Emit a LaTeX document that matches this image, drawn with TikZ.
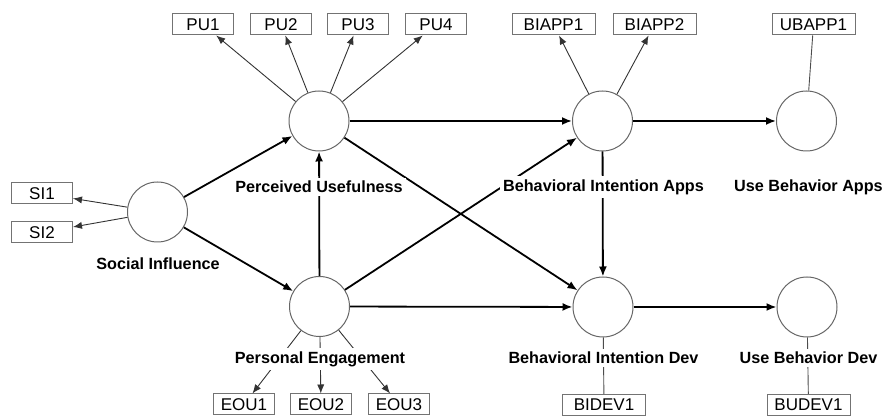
\documentclass[tikz,border=0pt]{standalone}
\usepackage{fontspec}
\setmainfont{Liberation Sans}
\usetikzlibrary{arrows.meta}
\tikzset{
  lv/.style={circle,draw=black!60,line width=0.5pt,minimum size=30pt,inner sep=0pt},
  ind/.style={draw=black!55,line width=0.5pt,minimum width=30.5pt,minimum height=10.5pt,
    inner sep=0pt,font=\fontsize{8.5}{10}\selectfont},
  wide/.style={minimum width=41.5pt},
  lvname/.style={fill=white,inner sep=1.5pt,font=\fontsize{8.1}{10}\selectfont\bfseries},
  effect/.style={line width=0.9pt,-{Latex[length=5pt,width=4pt]}},
  load/.style={draw=black!80,line width=0.45pt,-{Latex[length=4.5pt,width=3.6pt]}},
  link/.style={draw=black!70,line width=0.45pt}
}
\begin{document}
\begin{tikzpicture}[x=0.5pt,y=-0.5pt]
  \useasboundingbox (0,0) rectangle (890,416);
  % latent variables
  \node[lv] (si) at (157.5,212) {};
  \node[lv] (pu) at (319,121) {};
  \node[lv] (pe) at (319.5,306.5) {};
  \node[lv] (biapp) at (602.5,121) {};
  \node[lv] (bidev) at (603,307) {};
  \node[lv] (ubapp) at (806.5,121) {};
  \node[lv] (budev) at (807,307) {};
  %% indicators
  \node[ind] (si1) at (42,193.5) {SI1};
  \node[ind] (si2) at (42,232.5) {SI2};
  \node[ind] (pu1) at (203,24.5) {PU1};
  \node[ind] (pu2) at (281,24.5) {PU2};
  \node[ind] (pu3) at (358,24.5) {PU3};
  \node[ind] (pu4) at (436,24.5) {PU4};
  \node[ind,wide] (biapp1) at (553.5,24.5) {BIAPP1};
  \node[ind,wide] (biapp2) at (654.5,24.5) {BIAPP2};
  \node[ind,wide] (ubapp1) at (813.5,24.5) {UBAPP1};
  \node[ind] (eou1) at (244,404.5) {EOU1};
  \node[ind] (eou2) at (321,404.5) {EOU2};
  \node[ind] (eou3) at (399,404.5) {EOU3};
  \node[ind,wide] (bidev1) at (604,405) {BIDEV1};
  \node[ind,wide] (budev1) at (808.5,405) {BUDEV1};
  %% measurement
  \draw[load] (si) -- (si1);
  \draw[load] (si) -- (si2);
  \draw[load] (pu) -- (pu1);
  \draw[load] (pu) -- (pu2);
  \draw[load] (pu) -- (pu3);
  \draw[load] (pu) -- (pu4);
  \draw[load] (biapp) -- (biapp1);
  \draw[load] (biapp) -- (biapp2);
  \draw[load] (pe) -- (eou1);
  \draw[load] (pe) -- (eou2);
  \draw[load] (pe) -- (eou3);
  \draw[link] (ubapp1) -- (ubapp);
  \draw[link] (bidev) -- (bidev1);
  \draw[link] (budev) -- (budev1);
  %% structural paths
  \draw[effect] (si) -- (pu);
  \draw[effect] (si) -- (pe);
  \draw[effect] (pe) -- (pu);
  \draw[effect] (pu) -- (biapp);
  \draw[effect] (pu) -- (bidev);
  \draw[effect] (pe) -- (biapp);
  \draw[effect] (pe) -- (bidev);
  \draw[effect] (biapp) -- (bidev);
  \draw[effect] (biapp) -- (ubapp);
  \draw[effect] (bidev) -- (budev);
  %% names
  \node[lvname] (sin) at (158,264) {Social Influence};
  \node[lvname] (pun) at (319,187) {Perceived Usefulness};
  \node[lvname] (pen) at (320,359) {Personal Engagement};
  \node[lvname] (biappn) at (603.5,187) {Behavioral Intention Apps};
  \node[lvname] (bidevn) at (603.5,358) {Behavioral Intention Dev};
  \node[lvname] (ubappn) at (808.5,187) {Use Behavior Apps};
  \node[lvname] (budevn) at (808.5,358) {Use Behavior Dev};
\end{tikzpicture}
\end{document}
